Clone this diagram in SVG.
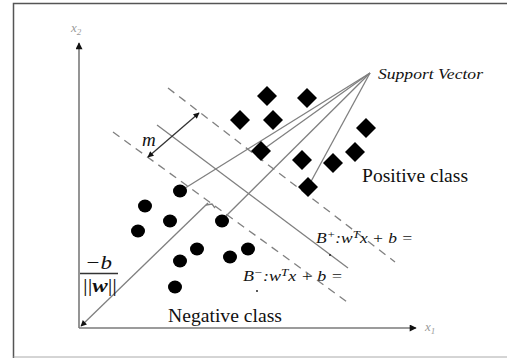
<svg xmlns="http://www.w3.org/2000/svg" xmlns:xlink="http://www.w3.org/1999/xlink" width="507" height="358" viewBox="0 0 507 358">
<style>
.axis{stroke:#7a7a7a;stroke-width:1.6;fill:none}
.ln{stroke:#808080;stroke-width:1.3;fill:none}
.dash{stroke:#808080;stroke-width:1.3;fill:none;stroke-dasharray:8 6}
.blk{stroke:#333;stroke-width:1.3;fill:none}
.dia{fill:#000}
.dot{fill:#000}
.serif{font-family:"Liberation Serif","Times New Roman",serif;fill:#111}
.it{font-style:italic}
.ax{font-family:"Liberation Serif",serif;font-style:italic;fill:#9a9a9a;font-size:13px}
</style>
<defs>
<marker id="ah" viewBox="0 0 10 10" refX="9" refY="5" markerWidth="9" markerHeight="7" markerUnits="userSpaceOnUse" orient="auto">
<path d="M0,0 L10,5 L0,10 Z" fill="#111"/>
</marker>
<marker id="ahs" viewBox="0 0 10 10" refX="9" refY="5" markerWidth="8" markerHeight="6" markerUnits="userSpaceOnUse" orient="auto-start-reverse">
<path d="M0,0 L10,5 L0,10 Z" fill="#111"/>
</marker>
<path id="d" d="M0,-10 L10,0 L0,10 L-10,0 Z"/>
<ellipse id="c" rx="7" ry="6.5"/>
</defs>
<rect x="0" y="0" width="507" height="358" fill="#fff"/>
<g id="frame">
<path d="M13.5,358 L13.5,3.5 L507,3.5" fill="none" stroke="#555" stroke-width="1.5"/>
<path d="M13.5,357 L507,357" fill="none" stroke="#aaa" stroke-width="1"/>
</g>
<g id="connectors">
<line class="axis" x1="79" y1="328" x2="79" y2="43" marker-end="url(#ah)"/>
<line class="axis" x1="79" y1="328" x2="416" y2="328" marker-end="url(#ah)"/>
<line class="dash" x1="168" y1="88" x2="395" y2="262"/>
<line class="ln" x1="157" y1="125" x2="348" y2="268"/>
<line class="dash" x1="113" y1="132" x2="350" y2="304"/>
<line class="blk" x1="148" y1="157" x2="199" y2="113" marker-start="url(#ahs)" marker-end="url(#ahs)"/>
<line class="ln" x1="208" y1="203" x2="81" y2="326" marker-end="url(#ahs)"/>
<polyline class="ln" points="206,205 212,204 215,208"/>
<line class="ln" x1="370" y1="73" x2="182" y2="190"/>
<line class="ln" x1="370" y1="73" x2="261" y2="151"/>
<line class="ln" x1="370" y1="73" x2="222" y2="220"/>
<line class="ln" x1="370" y1="73" x2="308" y2="187"/>
</g>
<g id="positive">
<g id="p1"><use xlink:href="#d" class="dia" x="267" y="96"/></g>
<g id="p2"><use xlink:href="#d" class="dia" x="307" y="98"/></g>
<g id="p3"><use xlink:href="#d" class="dia" x="240" y="120"/></g>
<g id="p4"><use xlink:href="#d" class="dia" x="273" y="120"/></g>
<g id="p5"><use xlink:href="#d" class="dia" x="366" y="128"/></g>
<g id="p6"><use xlink:href="#d" class="dia" x="261" y="151"/></g>
<g id="p7"><use xlink:href="#d" class="dia" x="355" y="152"/></g>
<g id="p8"><use xlink:href="#d" class="dia" x="302" y="160"/></g>
<g id="p9"><use xlink:href="#d" class="dia" x="333" y="163"/></g>
<g id="p10"><use xlink:href="#d" class="dia" x="308" y="187"/></g>
</g>
<g id="negative">
<g id="n1"><use xlink:href="#c" class="dot" x="180" y="191"/></g>
<g id="n2"><use xlink:href="#c" class="dot" x="145" y="206"/></g>
<g id="n3"><use xlink:href="#c" class="dot" x="170" y="221"/></g>
<g id="n4"><use xlink:href="#c" class="dot" x="138" y="231"/></g>
<g id="n5"><use xlink:href="#c" class="dot" x="222" y="221"/></g>
<g id="n6"><use xlink:href="#c" class="dot" x="197" y="249"/></g>
<g id="n7"><use xlink:href="#c" class="dot" x="180" y="261"/></g>
<g id="n8"><use xlink:href="#c" class="dot" x="230" y="257"/></g>
<g id="n9"><use xlink:href="#c" class="dot" x="248" y="249"/></g>
<g id="n10"><use xlink:href="#c" class="dot" x="175" y="287"/></g>
</g>
<g id="labels">
<text class="ax" x="71" y="32">x<tspan font-size="9" dy="3">2</tspan></text>
<text class="ax" x="425" y="331">x<tspan font-size="9" dy="3">1</tspan></text>
<text class="serif it" x="378" y="79" font-size="15" textLength="105" lengthAdjust="spacingAndGlyphs">Support Vector</text>
<text class="serif" x="362" y="182" font-size="18" textLength="106" lengthAdjust="spacingAndGlyphs">Positive class</text>
<text class="serif" x="168" y="322" font-size="18" textLength="114" lengthAdjust="spacingAndGlyphs">Negative class</text>
<text class="serif it" x="142" y="146" font-size="19">m</text>
<text class="serif it" x="316" y="243" font-size="15" textLength="97" lengthAdjust="spacingAndGlyphs">B<tspan dy="-5" font-size="11">+</tspan><tspan dy="5">:w</tspan><tspan dy="-5" font-size="11">T</tspan><tspan dy="5">x + b =</tspan></text>
<text class="serif it" x="243" y="281" font-size="15" textLength="100" lengthAdjust="spacingAndGlyphs">B<tspan dy="-5" font-size="11">−</tspan><tspan dy="5">:w</tspan><tspan dy="-5" font-size="11">T</tspan><tspan dy="5">x + b =</tspan></text>
<circle cx="330" cy="255" r="1" fill="#222"/>
<circle cx="257" cy="291" r="1" fill="#222"/>
<text class="serif it" x="85" y="269" font-size="19" textLength="27" lengthAdjust="spacingAndGlyphs">−b</text>
<line x1="80" y1="273.5" x2="118" y2="273.5" stroke="#333" stroke-width="1.3"/>
<text class="serif" x="83" y="292" font-size="19" textLength="34" lengthAdjust="spacingAndGlyphs">||<tspan font-weight="bold" font-style="italic">w</tspan>||</text>
</g>
</svg>
